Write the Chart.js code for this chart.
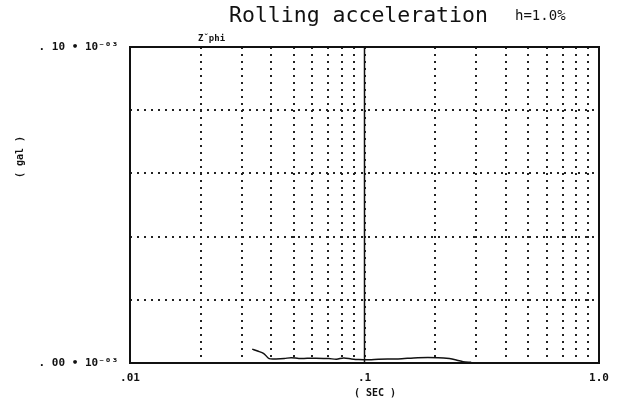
<!DOCTYPE html>
<html lang="en">
<head>
<meta charset="UTF-8">
<title>Rolling acceleration</title>
<script src="https://cdn.jsdelivr.net/npm/chart.js"></script>
<style>
  html, body { margin: 0; padding: 0; background: #fff; }
  #wrap { width: 619px; height: 408px; position: relative; }
</style>
</head>
<body>
<div id="wrap"><canvas id="chart"></canvas></div>
<script>
// periodo (s) y aceleracion (x10^-3 gal)
const periodSec = [0.0332, 0.0350, 0.0372, 0.0392, 0.0420, 0.0455, 0.0486, 0.0525, 0.0570, 0.0620, 0.0704, 0.0760, 0.0815, 0.0880, 0.0943, 0.1050, 0.1146, 0.1390, 0.1690, 0.2060, 0.2300, 0.2480, 0.2630, 0.2850];
const accel = [0.0044, 0.0038, 0.0030, 0.0014, 0.0013, 0.0014, 0.0017, 0.0014, 0.0015, 0.0015, 0.0014, 0.0012, 0.0016, 0.0013, 0.0011, 0.0010, 0.0012, 0.0013, 0.0017, 0.0017, 0.0014, 0.0009, 0.0004, 0.0002];

const xTicks = [0.01, 0.02, 0.03, 0.04, 0.05, 0.06, 0.07, 0.08, 0.09, 0.1, 0.2, 0.3, 0.4, 0.5, 0.6, 0.7, 0.8, 0.9, 1.0];
const xLabels = { '0.01': '.01', '0.1': '.1', '1': '1.0' };
const yLabels = ['. 00 \u2022 10\u207B\u2070\u00B3', '. 10 \u2022 10\u207B\u2070\u00B3'];

const tickFont = { family: 'DejaVu Sans Mono', size: 11, weight: 'bold' };

// marco, linea solida en 0.1 y textos
const frame = {
  id: 'frame',
  afterDraw(chart) {
    const { ctx, chartArea: a, scales } = chart;
    ctx.save();
    ctx.strokeStyle = '#111';
    ctx.lineWidth = 2;
    ctx.strokeRect(a.left, a.top, a.right - a.left, a.bottom - a.top);
    const x1 = scales.x.getPixelForValue(0.1);
    ctx.lineWidth = 1.5;
    ctx.beginPath();
    ctx.moveTo(x1, a.top);
    ctx.lineTo(x1, a.bottom);
    ctx.stroke();

    ctx.fillStyle = '#111';
    ctx.textBaseline = 'middle';
    ctx.textAlign = 'left';
    ctx.font = '21.5px "DejaVu Sans Mono"';
    ctx.fillText('Rolling acceleration', 229, 16);
    ctx.font = '14px "DejaVu Sans Mono"';
    ctx.fillText('h=1.0%', 515, 16);
    ctx.font = 'bold 9px "DejaVu Sans Mono"';
    ctx.fillText('Z\u02C7phi', 198, 39);
    ctx.textAlign = 'center';
    ctx.font = 'bold 10px "DejaVu Sans Mono"';
    ctx.fillText('( SEC )', 375, 393);
    ctx.save();
    ctx.translate(20, 157);
    ctx.rotate(-Math.PI / 2);
    ctx.fillText('( gal )', 0, 0);
    ctx.restore();
    ctx.restore();
  }
};

new Chart(document.getElementById('chart'), {
  type: 'line',
  data: {
    datasets: [{
      data: periodSec.map((t, i) => ({ x: t, y: accel[i] })),
      borderColor: '#111',
      borderWidth: 1.5,
      pointRadius: 0,
      tension: 0.3,
      fill: false
    }]
  },
  options: {
    responsive: true,
    maintainAspectRatio: false,
    animation: false,
    layout: { padding: { top: 47, right: 20, bottom: 0, left: 0 } },
    plugins: { legend: { display: false }, tooltip: { enabled: false } },
    scales: {
      x: {
        type: 'logarithmic',
        min: 0.01,
        max: 1.0,
        afterBuildTicks(scale) { scale.ticks = xTicks.map(v => ({ value: v })); },
        afterFit(scale) { scale.height = 45; },
        grid: { color: '#222', lineWidth: 2, drawTicks: false },
        border: { display: false, dash: [2, 5] },
        ticks: {
          autoSkip: false,
          maxRotation: 0,
          padding: 9,
          color: '#111',
          font: tickFont,
          callback(v) { return xLabels[String(+v.toFixed(4))] || ''; }
        }
      },
      y: {
        min: 0,
        max: 0.1,
        afterFit(scale) { scale.width = 130; },
        grid: { color: '#222', lineWidth: 2, drawTicks: false },
        border: { display: false, dash: [2, 5] },
        ticks: {
          stepSize: 0.02,
          padding: 12,
          color: '#111',
          font: tickFont,
          callback(v) {
            if (Math.abs(v) < 1e-9) return yLabels[0];
            if (Math.abs(v - 0.1) < 1e-9) return yLabels[1];
            return '';
          }
        }
      }
    }
  },
  plugins: [frame]
});
</script>
</body>
</html>
